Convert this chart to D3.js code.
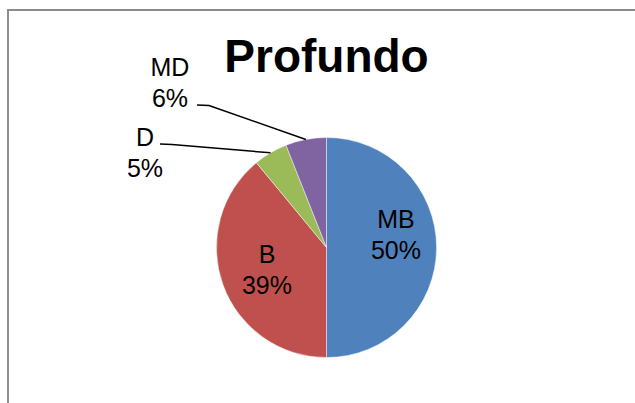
<!DOCTYPE html>
<html>
<head>
<meta charset="utf-8">
<script src="https://cdn.jsdelivr.net/npm/d3@7"></script>
<style>
  body { margin: 0; background: #fff; }
  svg { display: block; }
</style>
</head>
<body>
<svg width="635" height="403"></svg>
<script>
var categories = ["MB", "B", "D", "MD"],
    values = [50, 39, 5, 6],
    colors = ["#4f81bd", "#c0504d", "#9bbb59", "#8064a2"];

// label positions (inside for big slices, outside with leader for small)
var labelPos = [[396, 228], [267, 263], [145, 146], [170, 76]],
    leaderStart = [null, null, [160, 144], [197, 105]];

var svg = d3.select("svg"),
    width = +svg.attr("width"),
    height = +svg.attr("height");

var cx = 326.5, cy = 247.5, radius = 110;

// chart area frame
svg.append("rect")
    .attr("x", 8)
    .attr("y", 10)
    .attr("width", width)
    .attr("height", height)
    .attr("fill", "none")
    .attr("stroke", "#8c8c8c")
    .attr("stroke-width", 2);

svg.append("text")
    .attr("x", 326.5)
    .attr("y", 72)
    .attr("text-anchor", "middle")
    .attr("font-family", "Liberation Sans, Arial, sans-serif")
    .attr("font-weight", "bold")
    .attr("font-size", 46)
    .text("Profundo");

var pie = d3.pie().sort(null).value(function(d) { return d; });
var arc = d3.arc().innerRadius(0).outerRadius(radius);
var arcs = pie(values);

var g = svg.append("g").attr("transform", "translate(" + cx + "," + cy + ")");

g.selectAll("path")
    .data(arcs)
  .enter().append("path")
    .attr("d", arc)
    .attr("fill", function(d, i) { return colors[i]; })
    .attr("stroke", "#ffffff")
    .attr("stroke-opacity", 0.6)
    .attr("stroke-width", 0.75);

var total = d3.sum(values);

// leader lines for outside labels
arcs.forEach(function(d, i) {
  if (!leaderStart[i]) return;
  var mid = (d.startAngle + d.endAngle) / 2,
      ex = cx + radius * Math.sin(mid),
      ey = cy - radius * Math.cos(mid),
      s = leaderStart[i];
  svg.append("path")
      .attr("d", d3.line()([s, [s[0] + 12, s[1] + 0.5], [ex, ey]]))
      .attr("fill", "none")
      .attr("stroke", "#000")
      .attr("stroke-width", 1.5);
});

var labels = svg.selectAll(".lbl")
    .data(arcs)
  .enter().append("text")
    .attr("class", "lbl")
    .attr("text-anchor", "middle")
    .attr("font-family", "Liberation Sans, Arial, sans-serif")
    .attr("font-size", 25)
    .attr("fill", "#000");

labels.append("tspan")
    .attr("x", function(d, i) { return labelPos[i][0]; })
    .attr("y", function(d, i) { return labelPos[i][1]; })
    .text(function(d, i) { return categories[i]; });

labels.append("tspan")
    .attr("x", function(d, i) { return labelPos[i][0]; })
    .attr("dy", 31)
    .text(function(d) { return Math.round(d.value / total * 100) + "%"; });
</script>
</body>
</html>
